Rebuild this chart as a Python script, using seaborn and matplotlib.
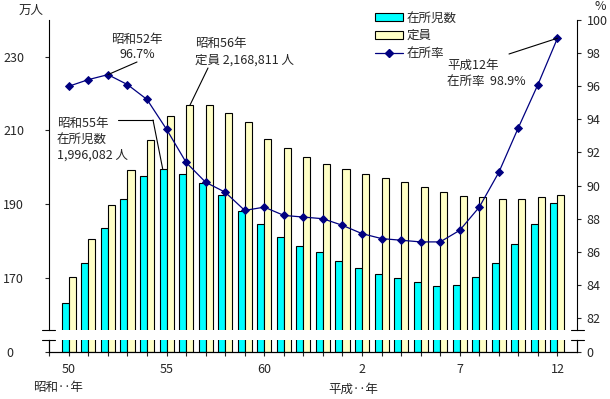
import numpy as np
import pandas as pd
import matplotlib
matplotlib.use('Agg')
import matplotlib.pyplot as plt
from matplotlib.patches import Patch
from matplotlib.lines import Line2D
import seaborn as sns

# 昭和50年～平成12年
years = ['昭和%d年' % y for y in range(50, 64)] + ['平成%d年' % y for y in range(1, 13)]
tick_text = ['50', '', '', '', '', '55', '', '', '', '', '60', '', '', '', '',
             '2', '', '', '', '', '7', '', '', '', '', '12']

# 在所児数 (万人)
enrolled = [163.1, 173.9, 183.4, 191.3, 197.6, 199.6, 198.3, 195.6, 192.6, 188.1,
            184.6, 181.0, 178.5, 176.9, 174.6, 172.6, 170.9, 169.9, 168.8, 167.7,
            168.0, 170.1, 173.9, 179.1, 184.6, 190.4]
# 定員 (万人)
capacity = [170.1, 180.4, 189.7, 199.2, 207.5, 213.8, 216.9, 217.0, 214.8, 212.3,
            207.8, 205.1, 202.8, 201.0, 199.4, 198.1, 197.0, 195.9, 194.7, 193.4,
            192.3, 191.8, 191.4, 191.4, 192.0, 192.6]
# 在所率 (%)
rate = [96.0, 96.4, 96.7, 96.1, 95.2, 93.4, 91.4, 90.2, 89.6, 88.5,
        88.7, 88.2, 88.1, 88.0, 87.6, 87.1, 86.8, 86.7, 86.6, 86.6,
        87.3, 88.7, 90.8, 93.5, 96.1, 98.9]

CYAN = '#00FFFF'
YELLOW = '#FFFFC6'
NAVY = '#000080'

sns.set_style('white')
plt.rcParams['font.family'] = ['Noto Sans CJK JP', 'DejaVu Sans']
plt.rcParams['font.size'] = 9
plt.rcParams['axes.linewidth'] = 0.8

W, H = 610, 399


def fx(x):
    return x / W


def fy(y):
    return 1 - y / H


df = pd.DataFrame({
    '年': years * 2,
    '万人': enrolled + capacity,
    '系列': ['在所児数'] * len(years) + ['定員'] * len(years),
})

fig = plt.figure(figsize=(W / 100, H / 100), dpi=100)
ax_top = fig.add_axes([fx(49.3), fy(330), (577 - 49.3) / W, 310 / H])
ax_bot = fig.add_axes([fx(49.3), fy(352), (577 - 49.3) / W, 12 / H])

for ax in (ax_top, ax_bot):
    sns.barplot(data=df, x='年', y='万人', hue='系列', palette=[CYAN, YELLOW],
                saturation=1, width=0.72, edgecolor='black', linewidth=0.8,
                legend=False, ax=ax)
    ax.set_xlabel('')
    ax.set_ylabel('')

ax_r = ax_top.twinx()
sns.pointplot(x=years, y=rate, color=NAVY, markers='D', markersize=4.5,
              linewidth=0.9, ax=ax_r)

ax_top.set_ylim(155.8, 240)
ax_top.set_yticks([170, 190, 210, 230])
ax_top.set_xticks([])
ax_top.set_xlim(-1, 26)
ax_r.set_ylim(81.28, 100)
ax_r.set_yticks(range(82, 101, 2))
ax_r.set_ylabel('')

ax_bot.set_ylim(0, 3.25)
ax_bot.set_yticks([0])
ax_bot.set_xticks(np.arange(-1, 26))
ax_bot.set_xticklabels([''] + tick_text)
ax_bot.set_xlim(-1, 26)
ax_bot_r = ax_bot.twinx()
ax_bot_r.set_ylim(0, 1)
ax_bot_r.set_yticks([0])

tick_kw = dict(direction='out', length=2.6, width=0.8, labelsize=9)
ax_top.yaxis.set_tick_params(pad=15.5, left=True, **tick_kw)
ax_r.yaxis.set_tick_params(pad=4.5, right=True, **tick_kw)
ax_bot.yaxis.set_tick_params(pad=23, left=True, **tick_kw)
ax_bot.xaxis.set_tick_params(pad=5, bottom=True, **tick_kw)
ax_bot_r.yaxis.set_tick_params(pad=4.5, right=True, **tick_kw)

for a in (ax_top, ax_r, ax_bot, ax_bot_r):
    for s in a.spines.values():
        s.set_color('black')
        s.set_linewidth(0.8)
    a.spines['top'].set_visible(False)
ax_top.spines['bottom'].set_visible(False)
ax_top.spines['right'].set_visible(False)
ax_r.spines['bottom'].set_visible(False)
ax_r.spines['left'].set_visible(False)

# axis break marks
for y in (330, 340):
    fig.add_artist(Line2D([fx(42), fx(55)], [fy(y), fy(y)], color='black', lw=0.8))
    fig.add_artist(Line2D([fx(571), fx(584)], [fy(y), fy(y)], color='black', lw=0.8))

# unit labels
fig.text(fx(19), fy(10), '万人', va='center', ha='left')
fig.text(fx(606), fy(7), '%', va='center', ha='right')
fig.text(fx(33), fy(388), '昭和‥年', va='center', ha='left')
fig.text(fx(328), fy(389), '平成‥年', va='center', ha='left')

# annotations
line_kw = dict(arrowstyle='-', color='black', lw=0.8, shrinkA=0, shrinkB=0)
fig.text(fx(137), fy(47), '昭和52年\n96.7%', ha='center', va='center',
         linespacing=1.3)
ax_r.annotate('', xy=(2, rate[2]), xytext=(fx(137), fy(62)),
              textcoords='figure fraction', arrowprops=line_kw)

fig.text(fx(195), fy(52), '昭和56年\n定員 2,168,811 人', ha='left', va='center',
         linespacing=1.35)
ax_top.annotate('', xy=(6.2, capacity[6]), xytext=(fx(208), fy(68)),
                textcoords='figure fraction', arrowprops=line_kw)

fig.text(fx(57), fy(139.5), '昭和55年\n在所児数\n1,996,082 人', ha='left', va='center',
         linespacing=1.3)
fig.add_artist(Line2D([fx(118), fx(153)], [fy(120), fy(120)], color='black', lw=0.8))
ax_top.annotate('', xy=(4.8, enrolled[5]), xytext=(fx(153), fy(120)),
                textcoords='figure fraction', arrowprops=line_kw)

fig.text(fx(447), fy(73.5), '平成12年\n在所率  98.9%', ha='left', va='center',
         linespacing=1.3)
ax_r.annotate('', xy=(25, rate[25]), xytext=(fx(509), fy(54)),
              textcoords='figure fraction', arrowprops=line_kw)

handles = [
    Patch(facecolor=CYAN, edgecolor='black', linewidth=0.8),
    Patch(facecolor=YELLOW, edgecolor='black', linewidth=0.8),
    Line2D([], [], color=NAVY, marker='D', markersize=4.5, lw=0.9),
]
fig.legend(handles, ['在所児数', '定員', '在所率'], loc='upper left',
           bbox_to_anchor=(fx(375), fy(11.5)), frameon=False, borderpad=0,
           borderaxespad=0, handlelength=2.2, handleheight=0.6,
           handletextpad=0.35, labelspacing=0.38, fontsize=9)

fig.savefig('out.png', dpi=100)
